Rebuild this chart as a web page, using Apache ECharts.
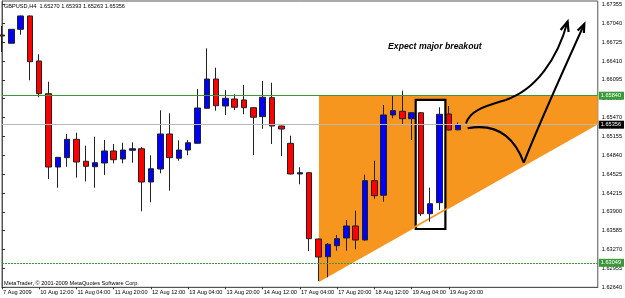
<!DOCTYPE html>
<html><head><meta charset="utf-8">
<script src="https://cdn.jsdelivr.net/npm/echarts@6/dist/echarts.min.js"></script>
<style>html,body{margin:0;padding:0;background:#fff}#c{width:625px;height:298px}</style>
</head><body><div id="c"></div>
<script>
// ---------- data ----------
const categories = [
 '7 Aug 2009','10 Aug 00:00','10 Aug 04:00','10 Aug 08:00','10 Aug 12:00','10 Aug 16:00','10 Aug 20:00','11 Aug 00:00',
 '11 Aug 04:00','11 Aug 08:00','11 Aug 12:00','11 Aug 16:00','11 Aug 20:00','12 Aug 00:00','12 Aug 04:00','12 Aug 08:00',
 '12 Aug 12:00','12 Aug 16:00','12 Aug 20:00','13 Aug 00:00','13 Aug 04:00','13 Aug 08:00','13 Aug 12:00','13 Aug 16:00',
 '13 Aug 20:00','14 Aug 00:00','14 Aug 04:00','14 Aug 08:00','14 Aug 12:00','14 Aug 16:00','14 Aug 20:00','17 Aug 00:00',
 '17 Aug 04:00','17 Aug 08:00','17 Aug 12:00','17 Aug 16:00','17 Aug 20:00','18 Aug 00:00','18 Aug 04:00','18 Aug 08:00',
 '18 Aug 12:00','18 Aug 16:00','18 Aug 20:00','19 Aug 00:00','19 Aug 04:00','19 Aug 08:00','19 Aug 12:00','19 Aug 16:00',
 '19 Aug 20:00','20 Aug 00:00',
 '','','','','','','','','','','','','','',''
];
const open = [1.66854,1.66716,1.66949,1.67172,1.66420,1.65874,1.64649,1.64805,1.65112,1.64745,
 1.64654,1.64716,1.64917,1.64783,1.64928,1.64955,1.64399,1.64616,1.65201,1.64795,
 1.64933,1.65045,1.65630,1.66119,1.65668,1.65785,1.65769,1.65640,1.65490,1.65807,
 1.65334,1.65045,1.64533,1.64554,1.63447,1.63151,1.63335,1.63464,1.63664,1.63430,
 1.64421,1.64177,1.65518,1.65580,1.65456,1.65556,1.63869,1.64053,1.65535,1.65270];
const high = [1.67005,1.66954,1.67180,1.67180,1.66532,1.66074,1.64816,1.65201,1.65222,1.65005,
 1.65155,1.65100,1.65034,1.65055,1.65062,1.64983,1.64845,1.65596,1.65546,1.65095,
 1.65100,1.65952,1.66632,1.66308,1.65936,1.65864,1.66019,1.65651,1.66086,1.66057,
 1.65340,1.65172,1.64644,1.64565,1.63455,1.63380,1.63514,1.63764,1.63920,1.64521,
 1.64755,1.65685,1.65840,1.65924,1.65568,1.65568,1.64304,1.65647,1.65668,1.65393];
const low = [1.66570,1.66712,1.66859,1.66098,1.65814,1.64449,1.64304,1.64654,1.64471,1.64410,
 1.64304,1.64516,1.64711,1.64711,1.64721,1.63909,1.64060,1.64544,1.64254,1.64755,
 1.64845,1.65042,1.65627,1.65590,1.65518,1.65601,1.65530,1.64850,1.65289,1.65034,
 1.64833,1.64525,1.64360,1.63246,1.62745,1.62807,1.63251,1.63251,1.63275,1.63422,
 1.64120,1.64070,1.65463,1.65351,1.65100,1.63831,1.63736,1.63931,1.65259,1.65263];
const close = [1.66838,1.66949,1.67172,1.66408,1.65874,1.64649,1.64811,1.65112,1.64733,1.64661,
 1.64721,1.64917,1.64771,1.64933,1.64955,1.64399,1.64621,1.65201,1.64805,1.64933,
 1.65055,1.65635,1.66119,1.65673,1.65797,1.65647,1.65640,1.65480,1.65814,1.65334,
 1.65284,1.64533,1.64554,1.63452,1.63146,1.63358,1.63452,1.63664,1.63430,1.64421,
 1.64170,1.65518,1.65590,1.65456,1.65556,1.63869,1.64036,1.65530,1.65267,1.65356];
const yTickLabels = ['1.62640','1.62955','1.63270','1.63585','1.63900','1.64215','1.64525','1.64840',
 '1.65155','1.65470','1.65780','1.66095','1.66410','1.66725','1.67040','1.67355'];
const resistance = 1.65840, support = 1.63049, bid = 1.65356;
// annotation objects in data space: [bar index, price]
const zone = [[34.05,1.65840],[64,1.65840],[64,1.65376],[34.05,1.62745]];
const trendLine = [[34.05,1.62745],[64,1.65376]];
const box = [[44.44,1.65769],[47.63,1.63614]];
const arrow1 = [[49.84,1.65376],[50.27,1.65601],[51.97,1.65668],[54.10,1.65769],[57.29,1.65935],[59.64,1.66437],[60.76,1.67080]];
const arrow1Head = [[60.01,1.66938],[60.76,1.67080],[60.86,1.66904]];
const arrow2 = [[50.02,1.65296],[53.04,1.65384],[54.95,1.65184],[56.05,1.64721],[57.3,1.65218],[60.7,1.66403],[62.55,1.67038]];
const arrow2Head = [[61.84,1.66929],[62.55,1.67038],[62.51,1.66888]];

// ---------- build ----------
const BASE = 1.62640, STEP = 315, YMAX = 4782;
const pts = p => Math.round((p - BASE) * 1e5 * 10) / 10;
const candleData = categories.map((c, i) => i < open.length ? [pts(open[i]), pts(close[i]), pts(low[i]), pts(high[i])] : '-');
const FONT = 'Liberation Sans';

const chart = echarts.init(document.getElementById('c'), null, {renderer: 'canvas'});
const cp = (api, p) => api.coord([p[0], pts(p[1])]);
const bez = (api, a, b, c, d) => ({type: 'bezierCurve', shape: {
  x1: cp(api,a)[0], y1: cp(api,a)[1], cpx1: cp(api,b)[0], cpy1: cp(api,b)[1],
  cpx2: cp(api,c)[0], cpy2: cp(api,c)[1], x2: cp(api,d)[0], y2: cp(api,d)[1]},
  style: {stroke: '#000', fill: null, lineWidth: 2}});
const annStyle = {stroke: '#000', fill: null, lineWidth: 2.2, lineJoin: 'miter'};

chart.setOption({
  animation: false,
  backgroundColor: '#fff',
  grid: {left: 2, right: 22, top: 1, bottom: 10.7, show: true, borderColor: '#555', borderWidth: 1, backgroundColor: '#fff'},
  xAxis: [{
    type: 'category', data: categories, boundaryGap: false,
    axisLine: {show: true, lineStyle: {color: '#555'}},
    axisTick: {show: true, length: 2, interval: (i, v) => i % 4 === 0 && v !== '', lineStyle: {color: '#333'}},
    axisLabel: {show: true, interval: (i, v) => i % 4 === 0 && v !== '', align: 'left', margin: 2,
      fontSize: 5.6, fontFamily: FONT, color: '#000', padding: [0, 0, 0, 1]},
    splitLine: {show: false}
  }, {
    type: 'value', min: 0, max: 64, show: false
  }],
  yAxis: [{
    type: 'value', position: 'right', min: 0, max: YMAX, interval: STEP, scale: false,
    axisLine: {show: true, lineStyle: {color: '#555'}},
    axisTick: {show: true, length: 3, lineStyle: {color: '#333'}},
    axisLabel: {fontSize: 5.6, fontFamily: FONT, color: '#000', margin: 4, showMaxLabel: false,
      formatter: v => (v % STEP === 0 ? (yTickLabels[v / STEP] || '') : '')},
    splitLine: {show: false}
  }],
  series: [{
    type: 'custom', xAxisIndex: 1, yAxisIndex: 0, z: 1, silent: true, data: [[0, 0]],
    renderItem: (params, api) => ({type: 'group', children: [
      {type: 'polygon', shape: {points: zone.map(p => cp(api, p))}, style: {fill: '#f7961f'}},
      {type: 'rect', shape: (() => { const a = cp(api, box[0]), b = cp(api, box[1]);
          return {x: a[0], y: a[1], width: b[0] - a[0], height: b[1] - a[1]}; })(),
        style: {fill: '#fff', stroke: '#000', lineWidth: 2.2}},
      {type: 'line', shape: (() => { const a = cp(api, trendLine[0]), b = cp(api, trendLine[1]);
          return {x1: a[0], y1: a[1], x2: b[0], y2: b[1]}; })(), style: {stroke: '#f7961f', lineWidth: 1.5}}
    ]})
  }, {
    type: 'candlestick', xAxisIndex: 0, yAxisIndex: 0, z: 3, data: candleData, barWidth: 6,
    itemStyle: {color: '#0000ff', color0: '#ff0000', borderColor: '#222', borderColor0: '#222', borderWidth: 1},
    markLine: {
      silent: true, symbol: 'none', animation: false,
      label: {position: 'end', distance: 1, fontSize: 5.6, fontFamily: FONT, padding: [1, 3, 1, 2], color: '#fff'},
      data: [
        {yAxis: pts(resistance), lineStyle: {color: '#3a9a3a', width: 1, type: 'solid'},
         label: {formatter: resistance.toFixed(5), backgroundColor: '#3a9a3a'}},
        {yAxis: pts(support), lineStyle: {color: '#3a9a3a', width: 1, type: [2, 1]},
         label: {formatter: support.toFixed(5), backgroundColor: '#3a9a3a'}},
        {yAxis: pts(bid), lineStyle: {color: '#b8b8b8', width: 1, type: 'solid'},
         label: {formatter: bid.toFixed(5), backgroundColor: '#000'}}
      ]
    }
  }, {
    type: 'custom', xAxisIndex: 1, yAxisIndex: 0, z: 5, silent: true, data: [[0, 0]],
    renderItem: (params, api) => ({type: 'group', children: [
      bez(api, arrow1[0], arrow1[1], arrow1[2], arrow1[3]),
      bez(api, arrow1[3], arrow1[4], arrow1[5], arrow1[6]),
      {type: 'polyline', shape: {points: arrow1Head.map(p => cp(api, p))}, style: annStyle},
      bez(api, arrow2[0], arrow2[1], arrow2[2], arrow2[3]),
      bez(api, arrow2[3], arrow2[4], arrow2[5], arrow2[6]),
      {type: 'polyline', shape: {points: arrow2Head.map(p => cp(api, p))}, style: annStyle}
    ]})
  }],
  graphic: [
    {type: 'text', left: 4, top: 3, z: 10, style: {text: 'GBPUSD,H4  1.65270 1.65393 1.65263 1.65356', fontSize: 5.6, fontFamily: FONT, fill: '#000'}},
    {type: 'text', left: 4, top: 280, z: 10, style: {text: 'MetaTrader, \u00a9 2001-2009 MetaQuotes Software Corp.', fontSize: 5.6, fontFamily: FONT, fill: '#000'}},
    {type: 'text', left: 388, top: 42, z: 10, style: {text: 'Expect major breakout', fontSize: 8.7, fontWeight: 'bold', fontStyle: 'italic', fontFamily: FONT, fill: '#000'}}
  ]
});
</script>
</body></html>
